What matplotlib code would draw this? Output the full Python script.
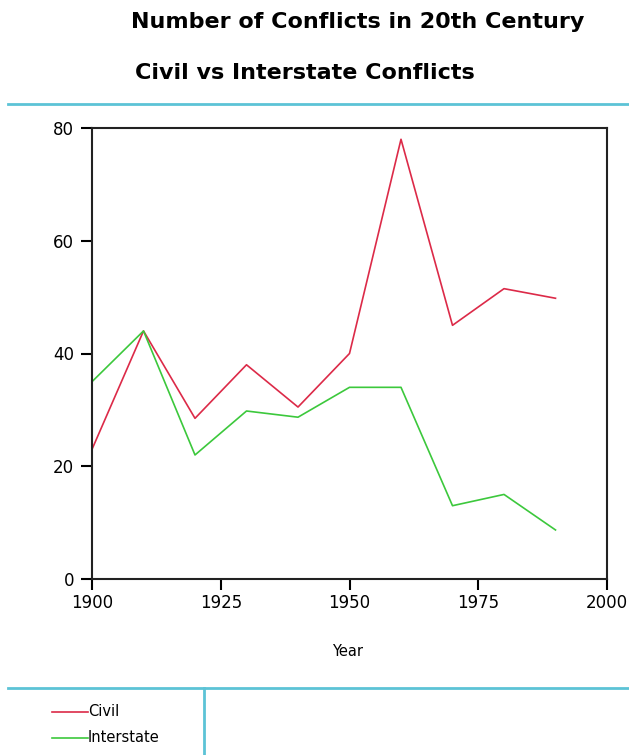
import matplotlib.pyplot as plt
from matplotlib.lines import Line2D

years = [1900, 1910, 1920, 1930, 1940, 1950, 1960, 1970, 1980, 1990]
civil = [23, 44, 28.5, 38, 30.5, 40, 78, 45, 51.5, 49.8]
interstate = [35, 44, 22, 29.8, 28.7, 34, 34, 13, 15, 8.7]

x_ticks = [1900, 1925, 1950, 1975, 2000]
y_ticks = [0, 20, 40, 60, 80]

red = '#dc2a48'
green = '#3cc83c'
cyan = '#5cc3d6'

fig = plt.figure(figsize=(6.29, 7.55), dpi=100)
ax = fig.add_axes([92 / 629, 1 - 579 / 755, (607 - 92) / 629, (579 - 128) / 755])

ax.plot(years, civil, color=red, linewidth=1.2)
ax.plot(years, interstate, color=green, linewidth=1.2)

ax.set_xlim(1900, 2000)
ax.set_ylim(0, 80)
ax.set_xticks(x_ticks)
ax.set_yticks(y_ticks)
ax.tick_params(direction='out', length=8, width=1.5, labelsize=12, pad=3)
ax.tick_params(axis='y', pad=5)
for s in ax.spines.values():
    s.set_linewidth(1.5)
    s.set_color('#222222')

fig.text(348 / 629, 1 - 652 / 755, 'Year', ha='center', va='center', fontsize=10.5)

fig.text(358 / 629, 1 - 22 / 755, 'Number of Conflicts in 20th Century',
         ha='center', va='center', fontsize=16, fontweight='bold')
fig.text(305 / 629, 1 - 73 / 755, 'Civil vs Interstate Conflicts',
         ha='center', va='center', fontsize=16, fontweight='bold')

# frame lines
fig.add_artist(Line2D([8 / 629, 1], [1 - 104 / 755] * 2, color=cyan, linewidth=2))
fig.add_artist(Line2D([8 / 629, 1], [1 - 688 / 755] * 2, color=cyan, linewidth=2))
fig.add_artist(Line2D([204 / 629] * 2, [1 - 688 / 755, 0], color=cyan, linewidth=2))

# legend
for label, col, yp in [('Civil', red, 712), ('Interstate', green, 738)]:
    fig.add_artist(Line2D([52 / 629, 88 / 629], [1 - yp / 755] * 2, color=col, linewidth=1.2))
    fig.text(88 / 629, 1 - yp / 755, label, ha='left', va='center', fontsize=10.5)

fig.savefig('out.png', dpi=100)
